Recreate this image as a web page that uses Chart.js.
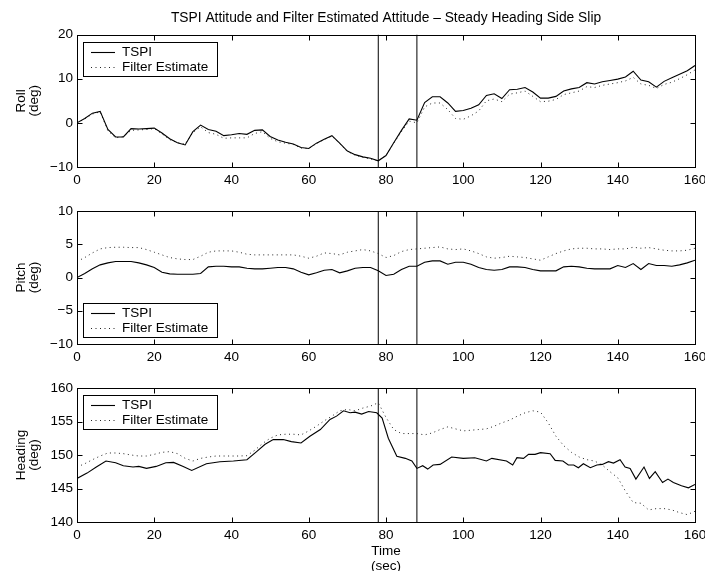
<!DOCTYPE html>
<html>
<head>
<meta charset="utf-8">
<title>TSPI Attitude and Filter Estimated Attitude</title>
<script src="https://cdn.jsdelivr.net/npm/chart.js@4.4.1/dist/chart.umd.min.js"></script>
<style>
  body { margin: 0; background: #fff; }
  #fig { position: relative; width: 705px; height: 571px; background: #fff; overflow: hidden; }
  #fig canvas { position: absolute; left: 0; }
</style>
</head>
<body>
<div id="fig">
  <canvas id="roll" width="705" height="190" style="top:0px"></canvas>
  <canvas id="pitch" width="705" height="177" style="top:190px"></canvas>
  <canvas id="heading" width="705" height="204" style="top:367px"></canvas>
</div>
<script>
// time axis, seconds (2 s samples)
const time = [0, 2, 4, 6, 8, 10, 12, 14, 16, 18, 20, 22, 24, 26, 28, 30, 32, 34, 36, 38,
  40, 42, 44, 46, 48, 50, 52, 54, 56, 58, 60, 62, 64, 66, 68, 70, 72, 74, 76, 78,
  80, 82, 84, 86, 88, 90, 92, 94, 96, 98, 100, 102, 104, 106, 108, 110, 112, 114, 116, 118,
  120, 122, 124, 126, 128, 130, 132, 134, 136, 138, 140, 142, 144, 146, 148, 150, 152, 154, 156, 158, 160];

// roll (deg)
const rollTspi = [0.0, 1.0, 2.2, 2.6, -1.5, -3.2, -3.2, -1.3, -1.4, -1.3,
  -1.2, -2.3, -3.6, -4.5, -5.0, -2.0, -0.5, -1.5, -1.9, -2.9,
  -2.7, -2.4, -2.6, -1.7, -1.6, -3.1, -3.9, -4.4, -4.8, -5.6,
  -5.8, -4.6, -3.7, -2.9, -4.6, -6.4, -7.2, -7.7, -8.0, -8.6,
  -7.4, -4.5, -1.7, 0.9, 0.6, 4.6, 5.9, 5.9, 4.5, 2.6,
  2.8, 3.3, 4.1, 6.2, 6.6, 5.5, 7.5, 7.6, 8.0, 7.0,
  5.6, 5.6, 6.0, 7.2, 7.7, 8.0, 9.1, 8.8, 9.3, 9.6,
  9.9, 10.4, 11.7, 9.7, 9.3, 8.1, 9.4, 10.2, 11.0, 11.8, 13.0];
const rollFilter = [0.0, 0.9, 2.0, 2.5, -1.8, -3.4, -3.1, -1.7, -1.6, -1.5,
  -1.3, -2.5, -3.8, -4.5, -4.8, -2.2, -0.9, -2.2, -2.6, -3.5,
  -3.4, -3.4, -3.4, -2.4, -2.0, -3.5, -4.3, -4.6, -4.9, -5.7,
  -5.8, -4.7, -3.8, -3.0, -4.7, -6.5, -7.3, -7.8, -8.2, -8.6,
  -7.4, -4.6, -2.0, 0.4, 0.0, 3.6, 4.5, 4.5, 3.0, 1.0,
  0.8, 1.6, 2.7, 5.0, 5.4, 4.8, 6.5, 6.8, 7.2, 6.0,
  4.8, 4.9, 5.3, 6.4, 6.8, 7.2, 8.2, 8.0, 8.5, 8.8,
  9.1, 9.5, 10.3, 8.8, 8.5, 7.8, 8.7, 9.2, 10.0, 10.9, 12.0];

// pitch (deg)
const pitchTspi = [0.0, 0.6, 1.3, 1.9, 2.2, 2.4, 2.4, 2.4, 2.2, 1.9,
  1.5, 0.8, 0.55, 0.5, 0.5, 0.5, 0.6, 1.6, 1.7, 1.7,
  1.6, 1.6, 1.4, 1.3, 1.3, 1.4, 1.5, 1.5, 1.3, 0.8,
  0.4, 0.7, 1.1, 1.2, 0.7, 1.0, 1.4, 1.5, 1.5, 1.0,
  0.3, 0.5, 1.2, 1.7, 1.7, 2.3, 2.5, 2.5, 2.0, 2.3,
  2.3, 2.0, 1.5, 1.2, 1.1, 1.2, 1.6, 1.6, 1.5, 1.2,
  1.0, 1.0, 1.0, 1.6, 1.7, 1.6, 1.4, 1.3, 1.3, 1.3,
  1.8, 1.5, 2.1, 1.2, 2.1, 1.8, 1.8, 1.7, 1.9, 2.2, 2.6];
const pitchFilter = [2.4, 3.0, 3.7, 4.3, 4.5, 4.55, 4.55, 4.5, 4.5, 4.2,
  3.8, 3.4, 3.0, 2.8, 2.7, 2.7, 3.2, 3.8, 4.0, 4.0,
  4.0, 3.8, 3.5, 3.4, 3.4, 3.4, 3.4, 3.4, 3.4, 3.2,
  2.9, 3.2, 3.7, 3.6, 3.4, 3.8, 4.0, 4.2, 4.0, 3.6,
  3.0, 3.3, 3.9, 4.2, 4.3, 4.4, 4.5, 4.6, 4.3, 4.2,
  4.3, 4.0, 3.6, 3.1, 2.9, 3.0, 3.2, 3.1, 3.0, 2.8,
  2.6, 3.1, 3.6, 4.0, 4.3, 4.4, 4.4, 4.3, 4.3, 4.2,
  4.3, 4.3, 4.55, 4.4, 4.5, 4.3, 4.1, 4.0, 4.0, 4.1, 4.4];

// heading (deg); TSPI is sampled irregularly to keep its jitter
const headingTspiTime = [0, 2.6, 5, 7.5, 10, 12, 14.5, 16, 18, 20.5,
  23, 25, 27.5, 29.7, 33.5, 37, 40.5, 44, 46.5, 48.7,
  50.8, 53.4, 55.5, 58, 60.3, 63, 65.5, 67.2, 69, 70.7,
  72, 73.7, 75.5, 77.6, 79, 80.6, 82.8, 85, 86.7, 88,
  89.5, 90.8, 92.2, 94, 97, 100, 103, 106, 107.4, 111.2,
  112.8, 113.9, 115.6, 116.9, 118.6, 120, 122.5, 123.8, 125.8, 127.2,
  128.6, 129.8, 131.1, 132.9, 134.6, 136, 137.6, 138.9, 140.6, 141.9,
  143.2, 144.7, 146.8, 148.2, 149.7, 151.6, 153, 154.4, 156.5, 158.3, 160];
const headingTspi = [146.5, 147.3, 148.2, 149.1, 148.85, 148.4, 148.2, 148.3, 148.0, 148.3,
  148.85, 148.9, 148.3, 147.7, 148.7, 149.0, 149.1, 149.3, 150.5, 151.6,
  152.3, 152.3, 152.0, 151.8, 152.8, 153.8, 155.3, 155.8, 156.6, 156.3,
  156.4, 156.1, 156.5, 156.3, 155.5, 152.5, 149.8, 149.5, 149.1, 148.0,
  148.4, 147.9, 148.5, 148.6, 149.7, 149.5, 149.6, 149.1, 149.5, 149.1,
  148.5, 149.6, 149.5, 150.1, 150.1, 150.35, 150.2, 149.2, 149.1, 148.5,
  148.5, 148.1, 148.7, 148.1, 148.5, 148.6, 149.0, 148.8, 149.3, 148.2,
  148.0, 146.4, 148.2, 146.5, 147.5, 145.9, 146.4, 145.9, 145.4, 145.1, 145.6];
const headingFilter = [148.2, 148.7, 149.3, 149.85, 150.3, 150.3, 150.2, 150.0, 149.85, 149.85,
  150.1, 150.4, 150.5, 150.2, 149.5, 149.1, 149.5, 149.7, 149.85, 149.85,
  149.85, 149.85, 149.9, 150.7, 151.7, 152.5, 153.0, 153.1, 153.1, 153.0,
  153.6, 154.3, 155.1, 155.8, 156.6, 156.8, 156.6, 157.0, 157.3, 157.8,
  155.6, 153.8, 153.2, 153.2, 153.2, 153.0, 153.3, 153.8, 154.2, 153.9,
  153.6, 153.7, 153.8, 153.9, 154.3, 154.8, 155.2, 155.8, 156.3, 156.6,
  156.4, 154.8, 152.8, 151.4, 150.4, 149.7, 149.3, 149.1, 148.5, 147.5,
  146.6, 144.6, 142.9, 142.8, 141.8, 142.0, 142.0, 141.8, 141.4, 141.1, 141.6];

// event markers (sec) and axis limits
const markerTimes = [78, 88];
const rollLimits = [-10, 20];
const pitchLimits = [-10, 10];
const headingLimits = [140, 160];

const FONT = "'Liberation Sans', Arial, Helvetica, sans-serif";
Chart.defaults.font.family = FONT;
Chart.defaults.font.size = 13.5;
Chart.defaults.color = '#000';

function pts(xs, ys) {
  return xs.map((x, i) => ({ x: x, y: ys[i] }));
}

function minusLabel(v) {
  return v < 0 ? '\u2212' + Math.abs(v) : String(v);
}

// centre the figure title over the axes rather than the whole canvas
const titleOverAxes = {
  id: 'titleOverAxes',
  afterLayout(chart) {
    const tb = chart.titleBlock;
    if (tb) {
      tb.left = chart.chartArea.left;
      tb.right = chart.chartArea.right;
      tb.width = tb.right - tb.left;
    }
  }
};

// axes box with inward tick marks on all four sides
const matlabBox = {
  id: 'matlabBox',
  afterDraw(chart) {
    const ctx = chart.ctx, a = chart.chartArea;
    const xs = chart.scales.x, ys = chart.scales.y;
    const L = Math.round(a.left) + 0.5, R = Math.round(a.right) + 0.5;
    const T = Math.round(a.top) + 0.5, B = Math.round(a.bottom) + 0.5;
    const tl = 5;
    ctx.save();
    ctx.strokeStyle = '#000';
    ctx.lineWidth = 1;
    ctx.beginPath();
    xs.ticks.forEach(t => {
      const px = Math.round(xs.getPixelForValue(t.value)) + 0.5;
      ctx.moveTo(px, B); ctx.lineTo(px, B - tl);
      ctx.moveTo(px, T); ctx.lineTo(px, T + tl);
    });
    ys.ticks.forEach(t => {
      const py = Math.round(ys.getPixelForValue(t.value)) + 0.5;
      ctx.moveTo(L, py); ctx.lineTo(L + tl, py);
      ctx.moveTo(R, py); ctx.lineTo(R - tl, py);
    });
    ctx.stroke();
    ctx.strokeRect(L, T, R - L, B - T);
    ctx.restore();
  }
};

// boxed legend inside the axes, like the original figure
const boxLegend = {
  id: 'boxLegend',
  afterDraw(chart, args, opts) {
    const ctx = chart.ctx, a = chart.chartArea;
    const w = 134, h = 34;
    const x0 = Math.round(a.left) + 6;
    const y0 = opts.corner === 'bottom' ? Math.round(a.bottom) - 7 - h : Math.round(a.top) + 7;
    ctx.save();
    ctx.fillStyle = '#fff';
    ctx.fillRect(x0, y0, w, h);
    ctx.strokeStyle = '#000';
    ctx.lineWidth = 1;
    ctx.strokeRect(x0 + 0.5, y0 + 0.5, w, h);
    chart.data.datasets.slice(0, 2).forEach((ds, i) => {
      const yy = y0 + 10 + i * 15 + 0.5;
      ctx.setLineDash(ds.borderDash || []);
      ctx.strokeStyle = ds.borderColor;
      ctx.lineWidth = ds.borderWidth;
      ctx.beginPath();
      ctx.moveTo(x0 + 8, yy);
      ctx.lineTo(x0 + 32, yy);
      ctx.stroke();
      ctx.setLineDash([]);
      ctx.fillStyle = '#000';
      ctx.font = '13.5px ' + FONT;
      ctx.textBaseline = 'middle';
      ctx.textAlign = 'left';
      ctx.fillText(ds.label, x0 + 39, yy);
    });
    ctx.restore();
  }
};

function makeChart(id, cfg) {
  const datasets = [
    { label: 'TSPI', data: cfg.tspi, borderColor: '#000', borderWidth: 1.1 },
    { label: 'Filter Estimate', data: cfg.filter, borderColor: '#222', borderWidth: 1, borderDash: [1, 3.5] }
  ];
  markerTimes.forEach(t => {
    datasets.push({
      label: '', borderColor: '#000', borderWidth: 1,
      data: [{ x: t, y: cfg.limits[0] }, { x: t, y: cfg.limits[1] }]
    });
  });
  return new Chart(document.getElementById(id), {
    type: 'line',
    data: { datasets: datasets },
    plugins: [titleOverAxes, matlabBox, boxLegend],
    options: {
      responsive: false,
      animation: false,
      events: [],
      elements: { point: { radius: 0 }, line: { tension: 0, fill: false } },
      layout: { padding: { left: 0, right: 10, top: cfg.padTop, bottom: 0 } },
      plugins: {
        legend: { display: false },
        tooltip: { enabled: false },
        boxLegend: { corner: cfg.legendCorner },
        title: {
          display: !!cfg.title,
          text: cfg.title || '',
          font: { size: 13.8, weight: 'normal' },
          color: '#000',
          padding: { top: 10, bottom: 8 }
        }
      },
      scales: {
        x: {
          type: 'linear',
          min: 0, max: 160,
          grid: { display: false, drawTicks: false },
          border: { display: false },
          ticks: { stepSize: 20, padding: 5, maxRotation: 0, color: '#000' },
          title: {
            display: !!cfg.xTitle,
            text: cfg.xTitle || '',
            font: { size: 13.5, lineHeight: 1.05 },
            padding: { top: 0, bottom: -2 }
          },
          afterFit(scale) {
            scale.height = cfg.xHeight;
            scale.paddingLeft = 0;
            scale.paddingRight = 0;
          }
        },
        y: {
          min: cfg.limits[0], max: cfg.limits[1],
          grid: { display: false, drawTicks: false },
          border: { display: false },
          ticks: { stepSize: cfg.step, padding: 4, color: '#000', callback: minusLabel },
          title: {
            display: true,
            text: cfg.yTitle,
            font: { size: 13.5, lineHeight: 0.98 },
            padding: { top: 14.5, bottom: 0 }
          },
          afterFit(scale) {
            scale.width = 77;
            scale.paddingTop = 0;
            scale.paddingBottom = 0;
          }
        }
      }
    }
  });
}

makeChart('roll', {
  tspi: pts(time, rollTspi), filter: pts(time, rollFilter),
  limits: rollLimits, step: 10, yTitle: ['Roll', '(deg)'],
  title: 'TSPI Attitude and Filter Estimated Attitude \u2013 Steady Heading Side Slip',
  padTop: 0, xHeight: 23, legendCorner: 'top'
});
makeChart('pitch', {
  tspi: pts(time, pitchTspi), filter: pts(time, pitchFilter),
  limits: pitchLimits, step: 5, yTitle: ['Pitch', '(deg)'],
  padTop: 21, xHeight: 23, legendCorner: 'bottom'
});
makeChart('heading', {
  tspi: pts(headingTspiTime, headingTspi), filter: pts(time, headingFilter),
  limits: headingLimits, step: 5, yTitle: ['Heading', '(deg)'],
  xTitle: ['Time', '(sec)'],
  padTop: 21, xHeight: 49, legendCorner: 'top'
});
</script>
</body>
</html>
